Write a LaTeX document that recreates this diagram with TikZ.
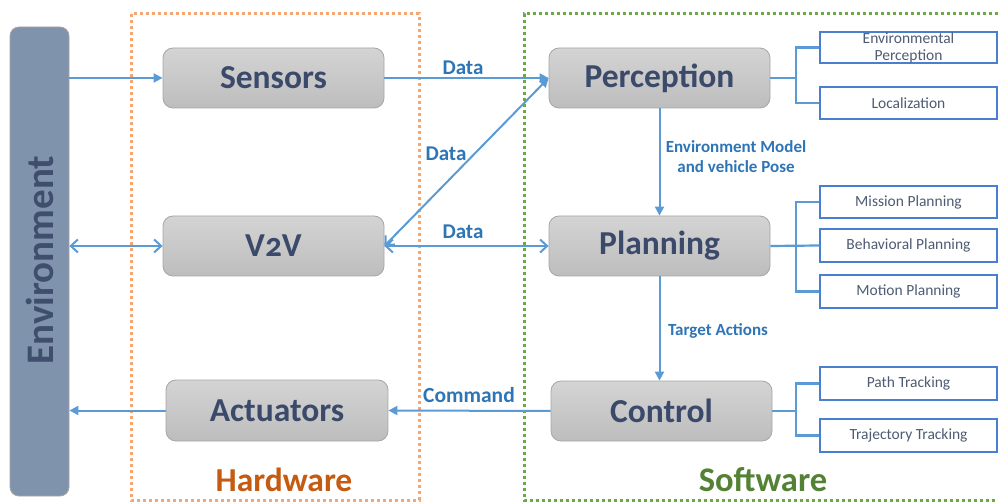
\documentclass[tikz,border=0pt]{standalone}
\usepackage{fontspec}
\setmainfont{Carlito}
\usetikzlibrary{arrows.meta}
\definecolor{boxtext}{HTML}{3B4A6A}
\definecolor{boxborder}{HTML}{A6A6A6}
\definecolor{gtop}{HTML}{D4D4D4}
\definecolor{gbot}{HTML}{BDBDBD}
\definecolor{envfill}{HTML}{8093AD}
\definecolor{envtext}{HTML}{3F4E6C}
\definecolor{arrowblue}{HTML}{5B9BD5}
\definecolor{labelblue}{HTML}{2E75B6}
\definecolor{subborder}{HTML}{4A7FCF}
\definecolor{subtext}{HTML}{4E5B73}
\definecolor{hwcol}{HTML}{F4A772}
\definecolor{hwtext}{HTML}{C55A11}
\definecolor{swcol}{HTML}{6AAB3F}
\definecolor{swtext}{HTML}{548235}
\tikzset{
  mainbox/.style={draw=boxborder, line width=0.8pt, rounded corners=10pt, top color=gtop, bottom color=gbot,
    minimum width=221pt, minimum height=60pt, font=\bfseries\fontsize{33.5}{38}\selectfont, text=boxtext, inner sep=0pt},
  subbox/.style={draw=subborder, line width=1.2pt, fill=white, minimum width=177pt, minimum height=32pt,
    font=\fontsize{15.5}{16.5}\selectfont, text=subtext, inner sep=0pt, align=center},
  conn/.style={draw=arrowblue, line width=2pt},
  bracket/.style={draw=arrowblue, line width=2.2pt},
  flowlabel/.style={text=labelblue, font=\bfseries\fontsize{21}{24}\selectfont, inner sep=0pt},
  smalllabel/.style={text=labelblue, font=\bfseries\fontsize{17}{20}\selectfont, inner sep=0pt, align=center},
  tri/.style={-{Triangle[length=9pt,width=9pt]}},
  barbtip/.style={},
  barb/.style={{Straight Barb[length=7pt,width=13pt,line width=2pt]}-{Straight Barb[length=7pt,width=13pt,line width=2pt]}},
  groupframe/.style={line width=3pt, dash pattern=on 3pt off 3pt},
}
\begin{document}
\begin{tikzpicture}[x=1pt,y=-1pt]
\useasboundingbox (0,0) rectangle (998,502);
\fill[white] (0,0) rectangle (998,502);
% group frames
\draw[groupframe, draw=hwcol] (131,14) rectangle (419,500);
\draw[groupframe, draw=swcol] (998,14) -- (524,14) -- (524,500.5) -- (998,500.5);
\node[text=hwtext, font=\bfseries\fontsize{33.5}{36}\selectfont, inner sep=0pt] (hw) at (284,480) {Hardware};
\node[text=swtext, font=\bfseries\fontsize{34.5}{36}\selectfont, inner sep=0pt] (sw) at (763,480) {Software};
% environment bar
\node[draw=boxborder, line width=0.8pt, fill=envfill, rounded corners=9pt, minimum width=59pt, minimum height=469pt, inner sep=0pt] (env) at (39.5,261.5) {};
\node[rotate=90, text=envtext, font=\bfseries\fontsize{39}{42}\selectfont, inner sep=0pt] (envlabel) at (40,260) {Environment};
% main boxes
\node[mainbox] (sens) at (273.5,78) {Sensors};
\node[mainbox] (v2v) at (273.5,246) {V\addfontfeatures{Numbers=OldStyle}2V};
\node[mainbox, minimum width=222pt, minimum height=61pt] (act) at (277,410.5) {Actuators};
\node[mainbox] (perc) at (659.5,78) {Perception};
\node[mainbox] (plan) at (659.5,246) {Planning};
\node[mainbox] (ctrl) at (661.5,411) {Control};
% sub boxes
\node[subbox, minimum height=31pt, font=\fontsize{15.5}{17}\selectfont] (envp) at (908.5,47.5) {Environmental\\Perception};
\node[subbox] (loc) at (908.5,103) {Localization};
\node[subbox] (mis) at (908.5,202) {Mission Planning};
\node[subbox, minimum height=33pt] (beh) at (908.5,245.5) {Behavioral Planning};
\node[subbox, minimum height=33pt] (mot) at (908.5,291.5) {Motion Planning};
\node[subbox, minimum height=33pt] (path) at (908.5,383.5) {Path Tracking};
\node[subbox, minimum height=33pt] (traj) at (908.5,435.5) {Trajectory Tracking};
% brackets
\coordinate (pb) at (796,78);
\coordinate (lb) at (796,246);
\coordinate (cb) at (796,411);
\draw[bracket] (perc.east) -- (pb);
\draw[bracket] (envp.west) -| (pb) |- (loc.west);
\draw[bracket] (plan.east) -- (beh.west);
\draw[bracket] (mis.west) -| (lb) |- (mot.west);
\draw[bracket] (ctrl.east) -- (cb);
\draw[bracket] (path.west) -| (cb) |- (traj.west);
% connectors
\draw[conn, tri] (env.east |- sens.west) -- (sens.west);
\draw[conn, barb] (env.east |- v2v.west) -- (v2v.west);
\draw[conn, tri] (act.west) -- (env.east |- act.west);
\draw[conn, tri] (sens.east) -- (perc.west);
\draw[conn, barb] (v2v.east) -- (plan.west);
\draw[conn, {Straight Barb[length=7pt,width=13pt,line width=2pt]}-{Triangle[length=9pt,width=9pt]}] (v2v.east) -- (perc.west);
\draw[conn, tri] (ctrl.west) -- (act.east);
\draw[conn, tri] (perc.south) -- (plan.north);
\draw[conn, tri] (plan.south) -- (ctrl.north -| plan.south);
% labels
\node[flowlabel] (d1) at (463,68) {Data};
\node[flowlabel] (d2) at (446,154) {Data};
\node[flowlabel] (d3) at (463,232) {Data};
\node[flowlabel, font=\bfseries\fontsize{21.5}{24}\selectfont] (cmd) at (469,395) {Command};
\node[smalllabel] (envmodel) at (736,157) {Environment Model\\and vehicle Pose};
\node[smalllabel] (target) at (718,331) {Target Actions};
\end{tikzpicture}
\end{document}
